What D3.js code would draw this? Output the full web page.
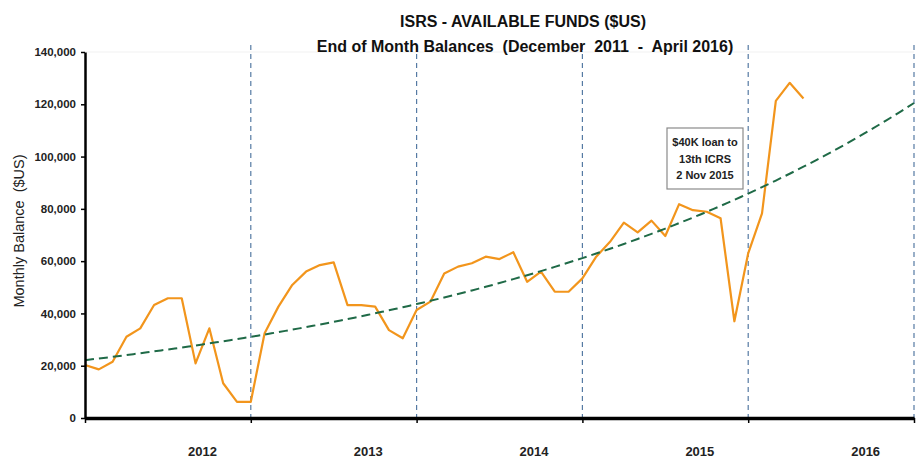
<!DOCTYPE html>
<html>
<head>
<meta charset="utf-8">
<script src="https://cdn.jsdelivr.net/npm/d3@7"></script>
<style>
  body { margin: 0; background: #fff; }
  svg { display: block; font-family: "Liberation Sans", Arial, sans-serif; }
</style>
</head>
<body>
<div id="chart"></div>
<script>
// end of month balances, Dec 2011 .. Apr 2016
const balances = [
  20300, 18600, 21500, 31100, 34300, 43200, 45800, 45800, 20900, 34300, 13300, 6200,
  6200, 32400, 42600, 50900, 56000, 58500, 59500, 43200, 43200, 42600, 33600, 30500,
  41300, 44500, 55300, 57900, 59200, 61700, 60800, 63400, 52100, 56000, 48300, 48300,
  53400, 61700, 67400, 74700, 71000, 75500, 69600, 81800, 79500, 78900, 76400, 37000,
  63000, 78300, 121300, 128200, 122200
];
const months = d3.timeMonth.range(new Date(2011, 11, 1), new Date(2016, 4, 1));
const yearLabels = ["2012", "2013", "2014", "2015", "2016"];
const yTicks = [0, 20000, 40000, 60000, 80000, 100000, 120000, 140000];
const noteLines = ["$40K loan to", "13th ICRS", "2 Nov 2015"];

const W = 916, H = 460;
const plotLeft = 85, plotRight = 914, plotTop = 52, plotBottom = 418;
const slots = yearLabels.length * 12;

const svg = d3.select('#chart').append('svg')
  .attr('width', W)
  .attr('height', H);

const x = d3.scaleLinear().domain([0, slots]).range([plotLeft, plotRight]);
const y = d3.scaleLinear().domain([0, 140000]).range([plotBottom, plotTop]);

// faint top border of the plot area
svg.append('line')
  .attr('x1', plotLeft).attr('x2', plotRight)
  .attr('y1', y(140000)).attr('y2', y(140000))
  .style('stroke', '#f1f1f1');

// year separators
const seps = d3.range(12, slots + 1, 12);
svg.selectAll('.sep')
  .data(seps)
  .enter()
  .append('line')
  .attr('class', 'sep')
  .attr('x1', (d) => x(d)).attr('x2', (d) => x(d))
  .attr('y1', 45).attr('y2', plotBottom)
  .style('stroke', '#557aa3')
  .style('stroke-width', 1.2)
  .style('stroke-dasharray', '5 4');

// data line
const line = d3.line()
  .x((d, i) => x(i))
  .y((d) => y(d));

svg.append('path')
  .datum(balances)
  .attr('d', line)
  .style('fill', 'none')
  .style('stroke', '#f2951c')
  .style('stroke-width', 2.2)
  .style('stroke-linejoin', 'round');

// exponential trendline (least squares on ln of the balances)
const mx = d3.mean(balances, (d, i) => i);
const my = d3.mean(balances, (d) => Math.log(d));
let sxy = 0, sxx = 0;
balances.forEach((d, i) => {
  sxy += (i - mx) * (Math.log(d) - my);
  sxx += (i - mx) * (i - mx);
});
const k = sxy / sxx;
const a = Math.exp(my - k * mx);
const trend = d3.range(0, slots + 0.01, 0.5).map((i) => ({ i: i, v: a * Math.exp(k * i) }));

svg.append('path')
  .datum(trend)
  .attr('d', d3.line().x((d) => x(d.i)).y((d) => y(d.v)))
  .style('fill', 'none')
  .style('stroke', '#1f6a47')
  .style('stroke-width', 2)
  .style('stroke-dasharray', '9 5');

// y axis
const yAxis = svg.append('g')
  .attr('transform', `translate(${plotLeft}, 0)`)
  .call(d3.axisLeft(y).tickValues(yTicks).tickSize(4).tickSizeOuter(0).tickFormat(d3.format(',')));

yAxis.select('.domain').style('stroke', '#000').style('stroke-width', 2.5);
yAxis.selectAll('.tick line').style('stroke', '#000').style('stroke-width', 1.5);
yAxis.selectAll('.tick text')
  .style('font-size', '11.5px')
  .style('font-weight', 'bold')
  .style('fill', '#222')
  .attr('x', -9);

// x axis
const xAxis = svg.append('g')
  .attr('transform', `translate(0, ${plotBottom})`)
  .call(d3.axisBottom(x).tickValues(d3.range(0, slots + 1, 12)).tickSize(5).tickSizeOuter(0).tickFormat(''));

xAxis.select('.domain').style('stroke', '#000').style('stroke-width', 3.5);
xAxis.selectAll('.tick line').style('stroke', '#000').style('stroke-width', 1.5);

svg.selectAll('.year')
  .data(yearLabels)
  .enter()
  .append('text')
  .attr('class', 'year')
  .attr('x', (d, i) => x(i * 12 + 8.5))
  .attr('y', 456)
  .attr('text-anchor', 'middle')
  .style('font-size', '13px')
  .style('font-weight', 'bold')
  .style('fill', '#222')
  .text((d) => d);

svg.append('text')
  .attr('transform', 'translate(24, 231) rotate(-90)')
  .attr('text-anchor', 'middle')
  .style('font-size', '14.5px')
  .style('white-space', 'pre')
  .style('fill', '#222')
  .text('Monthly Balance  ($US)');

// titles
svg.append('text')
  .attr('x', 523).attr('y', 27)
  .attr('text-anchor', 'middle')
  .style('font-size', '16px')
  .style('font-weight', 'bold')
  .style('fill', '#111')
  .text('ISRS - AVAILABLE FUNDS ($US)');

svg.append('text')
  .attr('x', 525).attr('y', 52)
  .attr('text-anchor', 'middle')
  .style('font-size', '16px')
  .style('font-weight', 'bold')
  .style('white-space', 'pre')
  .style('fill', '#111')
  .text('End of Month Balances  (December  2011  -  April 2016)');

// annotation
const note = svg.append('g');
note.append('rect')
  .attr('x', 667).attr('y', 128)
  .attr('width', 76).attr('height', 61)
  .style('fill', '#fff')
  .style('stroke', '#8a8a8a')
  .style('stroke-width', 1.2);

note.selectAll('text')
  .data(noteLines)
  .enter()
  .append('text')
  .attr('x', 705)
  .attr('y', (d, i) => 146 + i * 16.5)
  .attr('text-anchor', 'middle')
  .style('font-size', '11px')
  .style('font-weight', 'bold')
  .style('fill', '#222')
  .text((d) => d);
</script>
</body>
</html>
